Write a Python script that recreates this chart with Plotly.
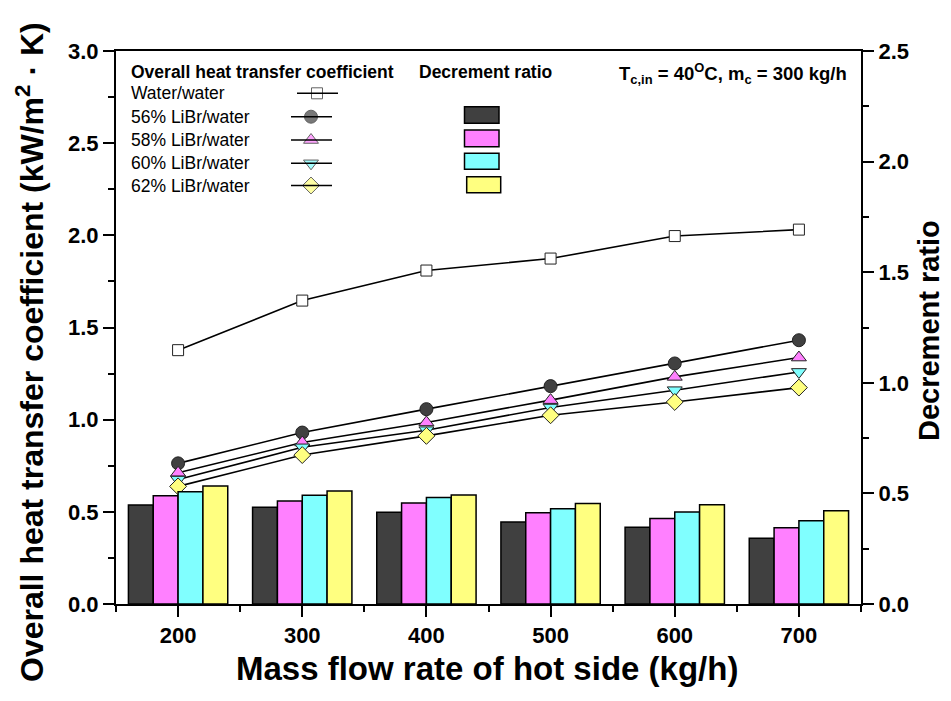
import plotly.graph_objects as go

# ---------------- data ----------------
flow = [200, 300, 400, 500, 600, 700]
series_names = ["Water/water", "56% LiBr/water", "58% LiBr/water", "60% LiBr/water", "62% LiBr/water"]

u_water = [1.377, 1.646, 1.809, 1.874, 1.996, 2.031]
u_56 = [0.763, 0.930, 1.057, 1.182, 1.305, 1.431]
u_58 = [0.712, 0.876, 0.985, 1.106, 1.232, 1.337]
u_60 = [0.675, 0.850, 0.943, 1.066, 1.160, 1.259]
u_62 = [0.638, 0.808, 0.912, 1.024, 1.096, 1.174]

dr_56 = [0.448, 0.437, 0.415, 0.371, 0.347, 0.297]
dr_58 = [0.489, 0.466, 0.457, 0.413, 0.386, 0.345]
dr_60 = [0.507, 0.492, 0.481, 0.431, 0.416, 0.376]
dr_62 = [0.534, 0.511, 0.493, 0.454, 0.449, 0.422]

bar_names = ["56% LiBr/water", "58% LiBr/water", "60% LiBr/water", "62% LiBr/water"]

# ---------------- styles ----------------
FONT = "Liberation Sans, Arial, sans-serif"
C_DARK = "#404040"
C_MAG = "#ff80ff"
C_CYAN = "#80ffff"
C_YEL = "#ffff80"

line_specs = [
    (u_water, "square", "#ffffff", 11),
    (u_56, "circle", C_DARK, 13),
    (u_58, "triangle-up", C_MAG, 13),
    (u_60, "triangle-down", C_CYAN, 13),
    (u_62, "diamond", C_YEL, 13),
]
bar_specs = [(dr_56, C_DARK), (dr_58, C_MAG), (dr_60, C_CYAN), (dr_62, C_YEL)]

fig = go.Figure()

for (vals, col), name in zip(bar_specs, bar_names):
    fig.add_trace(go.Bar(
        x=flow, y=vals, name=name, yaxis="y2", offsetgroup=name,
        marker=dict(color=col, line=dict(color="#000000", width=1.5)),
        showlegend=False,
    ))

for (vals, sym, col, sz), name in zip(line_specs, series_names):
    fig.add_trace(go.Scatter(
        x=flow, y=vals, name=name, mode="lines+markers",
        line=dict(color="#000000", width=1.6),
        marker=dict(symbol=sym, size=sz, color=col, line=dict(color="#222222", width=1)),
        showlegend=False,
    ))

# --------- custom legend (paper coords) ---------
L, R, T, B = 116, 861, 51, 604
def px(x):
    return (x - L) / (R - L)
def py(y):
    return (B - y) / (B - T)

rows_y = [93.3, 116.7, 140.0, 163.3, 185.5]
shapes = []
annotations = []

annotations.append(dict(x=px(129), y=py(71.7), xref="paper", yref="paper", xanchor="left", yanchor="middle",
                        text="<b>Overall heat transfer coefficient</b>", showarrow=False,
                        font=dict(family=FONT, size=17.5, color="#000")))
annotations.append(dict(x=px(417), y=py(71.7), xref="paper", yref="paper", xanchor="left", yanchor="middle",
                        text="<b>Decrement ratio</b>", showarrow=False,
                        font=dict(family=FONT, size=17.5, color="#000")))
annotations.append(dict(x=px(849), y=py(74), xref="paper", yref="paper", xanchor="right", yanchor="middle",
                        text="<b>T<sub>c,in</sub> = 40<sup>O</sup>C, m<sub>c</sub> = 300 kg/h</b>", showarrow=False,
                        font=dict(family=FONT, size=18.5, color="#000")))

leg_x, leg_y, leg_sym, leg_col = [], [], [], []
for i, (name, yy) in enumerate(zip(series_names, rows_y)):
    annotations.append(dict(x=px(129), y=py(yy), xref="paper", yref="paper", xanchor="left", yanchor="middle",
                            text=name, showarrow=False, font=dict(family=FONT, size=17.5, color="#000")))
    if i == 0:
        x0, x1, xm = 297, 338, 317
    else:
        x0, x1, xm = 291, 332, 311
    shapes.append(dict(type="line", xref="paper", yref="paper", x0=px(x0), x1=px(x1), y0=py(yy), y1=py(yy),
                       line=dict(color="#000", width=1.5)))
    leg_x.append(px(xm)); leg_y.append(py(yy))
    leg_sym.append(line_specs[i][1]); leg_col.append(line_specs[i][2])

fig.add_trace(go.Scatter(
    x=leg_x, y=leg_y, xaxis="x3", yaxis="y3", mode="markers", showlegend=False, hoverinfo="skip",
    marker=dict(symbol=leg_sym, color=leg_col, size=[11, 13, 13, 13, 13], line=dict(color="#222222", width=1)),
))

rect_pos = [(464.5, 499, 106.7, 123.3), (464.5, 499, 130, 146.7), (464.5, 499, 153.3, 169.3), (466.7, 500.7, 176.7, 192.7)]
for (x0, x1, y0, y1), (_, col) in zip(rect_pos, bar_specs):
    shapes.append(dict(type="rect", xref="paper", yref="paper", x0=px(x0), x1=px(x1), y0=py(y1), y1=py(y0),
                       fillcolor=col, line=dict(color="#000", width=1.5)))

# axis titles
annotations.append(dict(x=px(30), y=py(352), xref="paper", yref="paper", xanchor="center", yanchor="middle",
                        textangle=-90, showarrow=False,
                        text="<b>Overall heat transfer coefficient (kW/m<sup>2</sup> · K)</b>",
                        font=dict(family=FONT, size=32, color="#000")))
annotations.append(dict(x=px(929), y=py(330), xref="paper", yref="paper", xanchor="center", yanchor="middle",
                        textangle=-90, showarrow=False, text="<b>Decrement ratio</b>",
                        font=dict(family=FONT, size=29, color="#000")))
annotations.append(dict(x=px(487), y=py(668), xref="paper", yref="paper", xanchor="center", yanchor="middle",
                        showarrow=False, text="<b>Mass flow rate of hot side (kg/h)</b>",
                        font=dict(family=FONT, size=33, color="#000")))

tickfont = dict(family=FONT, size=22, color="#000", weight="bold")
axis_common = dict(showline=True, linecolor="#000", linewidth=2, ticks="outside", ticklen=11, tickwidth=1.6,
                   tickcolor="#000", showgrid=False, zeroline=False, tickfont=tickfont)

fig.update_layout(
    width=951, height=701,
    margin=dict(l=L, r=951 - R, t=T, b=701 - B, pad=0),
    plot_bgcolor="#ffffff", paper_bgcolor="#ffffff",
    barmode="group", bargap=0.2, bargroupgap=0,
    showlegend=False,
    xaxis=dict(range=[150, 750], tickmode="linear", tick0=200, dtick=100, mirror=True,
               minor=dict(dtick=50, tick0=150, ticklen=6, tickwidth=1.6, tickcolor="#000", ticks="outside"),
               **axis_common),
    yaxis=dict(range=[0, 3.0], tickmode="linear", tick0=0, dtick=0.5, tickformat=".1f",
               minor=dict(dtick=0.25, ticklen=6, tickwidth=1.6, tickcolor="#000", ticks="outside"),
               **axis_common),
    yaxis2=dict(range=[0, 2.5], tickmode="linear", tick0=0, dtick=0.5, tickformat=".1f", overlaying="y", side="right",
                minor=dict(dtick=0.25, ticklen=6, tickwidth=1.6, tickcolor="#000", ticks="outside"),
                **axis_common),
    xaxis3=dict(range=[0, 1], overlaying="x", visible=False, fixedrange=True),
    yaxis3=dict(range=[0, 1], overlaying="y", visible=False, fixedrange=True),
    shapes=shapes,
    annotations=annotations,
)

fig.write_html("out.html")
